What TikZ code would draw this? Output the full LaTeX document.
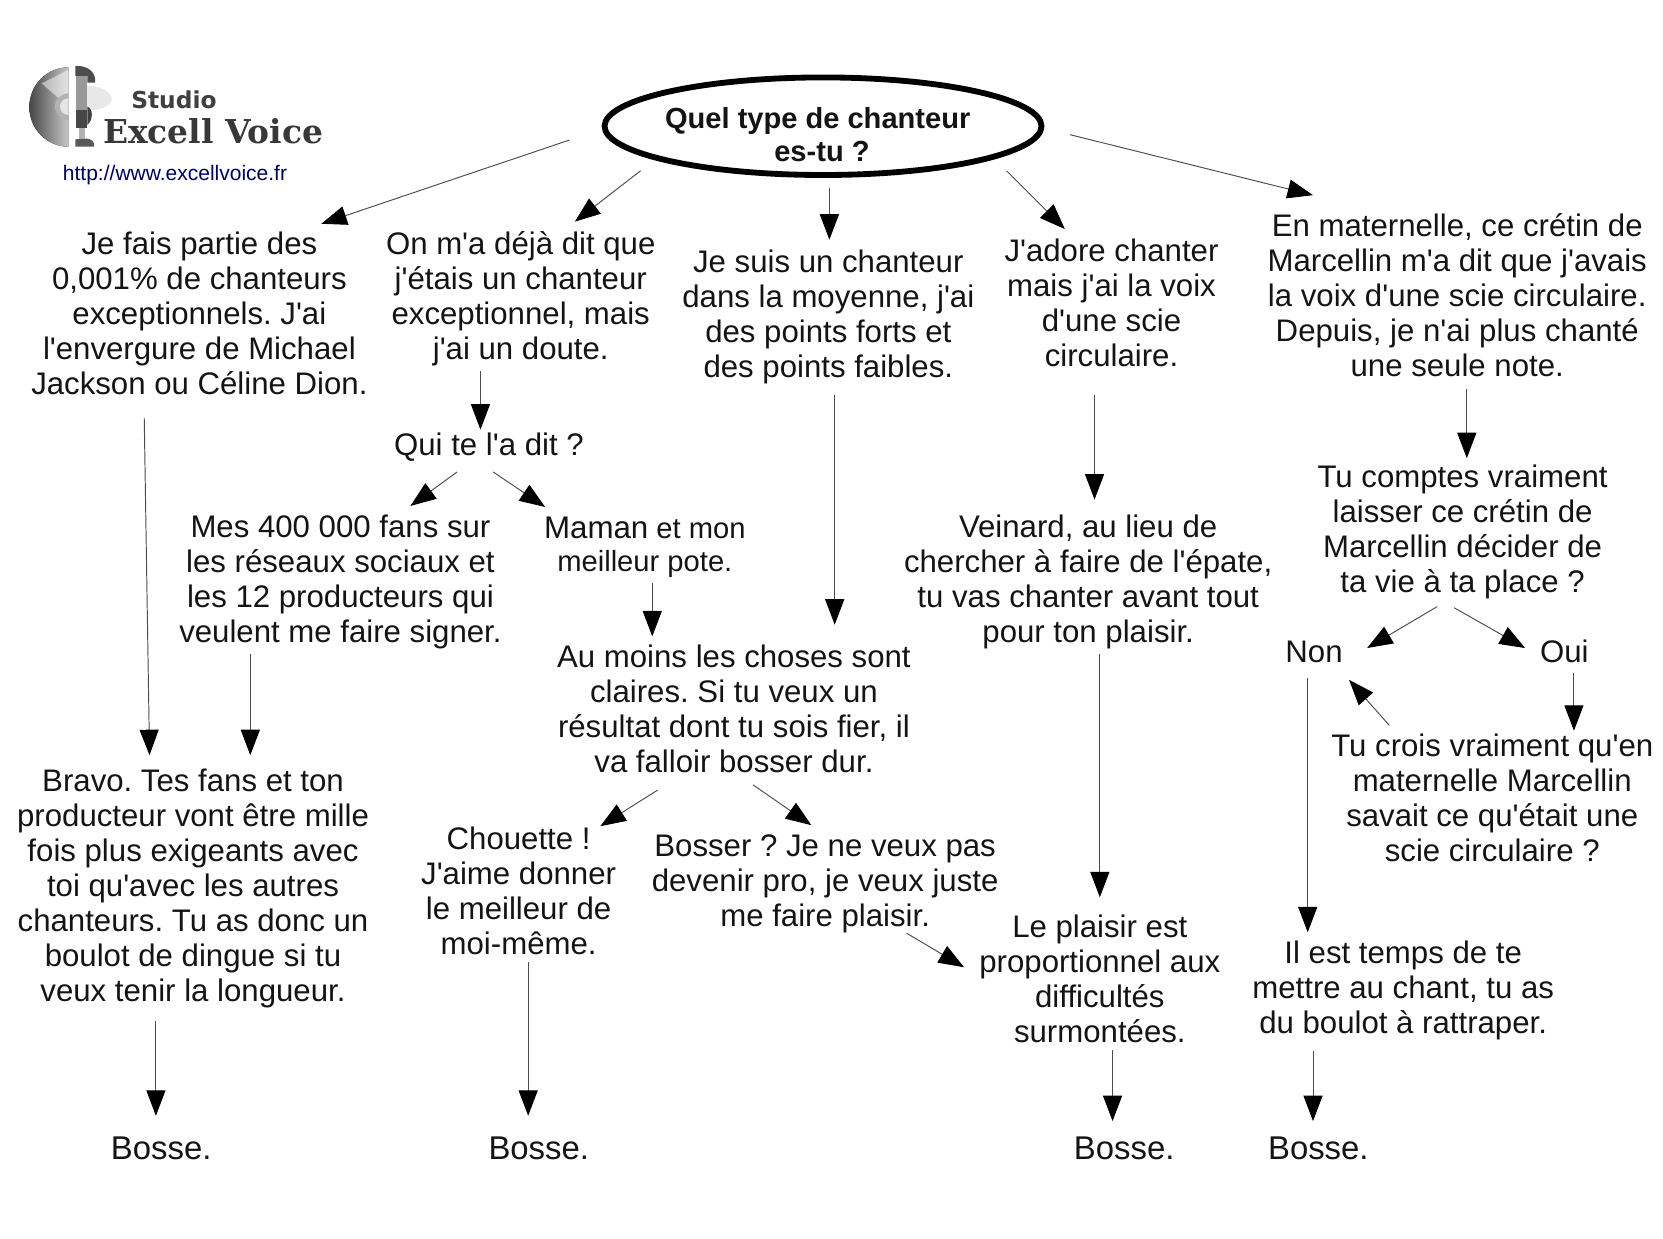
\documentclass[tikz,border=0pt]{standalone}
\usepackage{fontspec}
\newfontfamily\plainfont{Liberation Sans}
\newfontfamily\logofont{DejaVu Sans}
\newfontfamily\logoserif{DejaVu Serif}
\usetikzlibrary{arrows.meta,shapes.geometric}
\tikzset{
  txt/.style={align=center,inner sep=0pt,font=\plainfont\frenchspacing\fontsize{29.4}{33}\selectfont,text=black!92},
  arr/.style={draw=black!70,line width=0.9pt,-{Triangle[length=24pt,width=18pt,color=black]}},
  rootnode/.style={ellipse,draw=black,line width=5.5pt,fill=white,minimum width=412pt,minimum height=92pt,inner sep=0pt},
}
\begin{document}
\begin{tikzpicture}[x=1pt,y=-1pt]
\useasboundingbox (0,0) rectangle (1568,1168);
% logo
\begin{scope}[shift={(0,37.7)},x=0.3143pt,y=-0.3143pt]
  \fill[black!9] (250,140) .. controls (300,130) and (340,160) .. (335,180) .. controls (330,205) and (280,215) .. (250,210) -- cycle;
  \fill[left color=black!72,right color=black!22] (205,82) arc (-90:-270:117 and 119) -- cycle;
  \fill[white,opacity=.5] (205,90) -- (125,130) -- (205,200) -- cycle;
  \fill[black!30] (205,160) arc (-90:-270:40) -- cycle;
  \fill[black!10] (205,175) arc (-90:-270:25) -- cycle;
  \fill[black!70] (226,78) .. controls (265,75) and (290,100) .. (285,128) -- (262,128) -- (262,108) -- (226,108) -- cycle;
  \fill[black!40] (228,108) rectangle (262,210);
  \fill[black!72] (228,210) -- (262,210) -- (262,265) -- (228,265) -- cycle;
  \fill[black!75] (262,200) .. controls (280,205) and (280,240) .. (262,255) -- cycle;
  \fill[black!30] (236,265) rectangle (254,298);
  \fill[black!65] (226,298) -- (262,296) .. controls (280,298) and (284,310) .. (282,320) -- (226,320) -- cycle;
\end{scope}
\node[inner sep=0pt,text=black!75] (studio) at (164,94) {\logofont\bfseries\fontsize{22}{24}\selectfont Studio};
\node[inner sep=0pt,text=black!78] (excell) at (201,124) {\logoserif\bfseries\fontsize{31}{34}\selectfont Excell Voice};
\node[inner sep=0pt,text=blue!35!black] (url) at (165,165) {\plainfont\fontsize{19.8}{22}\selectfont http://www.excellvoice.fr};
% root
\node[rootnode] (q) at (776,119) {};
\node[txt,font=\plainfont\frenchspacing\bfseries\fontsize{27.4}{31}\selectfont] (qt) at (771,127) {Quel type de chanteur\\\hspace*{8pt}es-tu ?};
% text nodes
\node[txt] (a) at (188,295) {Je fais partie des\\0,001\% de chanteurs\\exceptionnels. J'ai\\l'envergure de Michael\\Jackson ou Céline Dion.};
\node[txt] (b) at (491,282) {On m'a déjà dit que\\j'étais un chanteur\\exceptionnel, mais\\j'ai un doute.};
\node[txt] (c) at (781,299) {Je suis un chanteur\\dans la moyenne, j'ai\\des points forts et\\des points faibles.};
\node[txt] (d) at (1048,286) {J'adore chanter\\mais j'ai la voix\\d'une scie\\circulaire.};
\node[txt] (e) at (1374,278) {En maternelle, ce crétin de\\Marcellin m'a dit que j'avais\\la voix d'une scie circulaire.\\Depuis, je n'ai plus chanté\\une seule note.};
\node[txt] (qui) at (461,422) {Qui te l'a dit ?};
\node[txt] (mes) at (321,549) {Mes 400 000 fans sur\\les réseaux sociaux et\\les 12 producteurs qui\\veulent me faire signer.};
\node[txt,font=\plainfont\frenchspacing\fontsize{27.5}{32}\selectfont] (maman) at (608,516) {{\fontsize{29.5}{32}\selectfont Maman} et mon\\meilleur pote.};
\node[txt] (veinard) at (1026,549) {Veinard, au lieu de\\chercher à faire de l'épate,\\tu vas chanter avant tout\\pour ton plaisir.};
\node[txt] (comptes) at (1379,502) {Tu comptes vraiment\\laisser ce crétin de\\Marcellin décider de\\ta vie à ta place ?};
\node[txt] (non) at (1239,615) {Non};
\node[txt] (oui) at (1475,614) {Oui};
\node[txt] (crois) at (1407,752) {Tu crois vraiment qu'en\\maternelle Marcellin\\savait ce qu'était une\\scie circulaire ?};
\node[txt] (moins) at (692,668) {Au moins les choses sont\\claires. Si tu veux un\\résultat dont tu sois fier, il\\va falloir bosser dur.};
\node[txt] (bravo) at (182,838) {Bravo. Tes fans et ton\\producteur vont être mille\\fois plus exigeants avec\\toi qu'avec les autres\\chanteurs. Tu as donc un\\boulot de dingue si tu\\veux tenir la longueur.};
\node[txt] (chouette) at (489,840) {Chouette !\\J'aime donner\\le meilleur de\\moi-même.};
\node[txt] (bosser) at (778,833) {Bosser ? Je ne veux pas\\devenir pro, je veux juste\\me faire plaisir.};
\node[txt] (plaisir) at (1037,923) {Le plaisir est\\proportionnel aux\\difficultés\\surmontées.};
\node[txt] (ilest) at (1323,934) {Il est temps de te\\mettre au chant, tu as\\du boulot à rattraper.};
\tikzset{bossetxt/.style={txt,font=\plainfont\fontsize{31}{33}\selectfont}}
\node[bossetxt] (b1) at (152,1083) {Bosse.};
\node[bossetxt] (b2) at (508,1083) {Bosse.};
\node[bossetxt] (b3) at (1060,1083) {Bosse.};
\node[bossetxt] (b4) at (1243,1083) {Bosse.};
% connectors: offsets from node centres
\draw[arr] ([shift={(-239,13)}]q.center) -- ([shift={(115,-84)}]a.center);
\draw[arr] ([shift={(-172,42)}]q.center) -- ([shift={(51,-73)}]b.center);
\draw[arr] ([shift={(6,58)}]q.center) -- ([shift={(1,-73)}]c.center);
\draw[arr] ([shift={(173,42)}]q.center) -- ([shift={(-44,-70)}]d.center);
\draw[arr] ([shift={(233,8)}]q.center) -- ([shift={(-136,-94)}]e.center);
\draw[arr] ([shift={(-52,99)}]a.center) -- ([shift={(-41,-126)}]bravo.center);
\draw[arr] ([shift={(-38,68)}]b.center) -- ([shift={(-8,-17)}]qui.center);
\draw[arr] ([shift={(-30,23)}]qui.center) -- ([shift={(66,-72)}]mes.center);
\draw[arr] ([shift={(4,23)}]qui.center) -- ([shift={(-94,-38)}]maman.center);
\draw[arr] ([shift={(-85,68)}]mes.center) -- ([shift={(54,-126)}]bravo.center);
\draw[arr] ([shift={(7,34)}]maman.center) -- ([shift={(-77,-68)}]moins.center);
\draw[arr] ([shift={(6,73)}]c.center) -- ([shift={(95,-79)}]moins.center);
\draw[arr] ([shift={(-16,86)}]d.center) -- ([shift={(6,-78)}]veinard.center);
\draw[arr] ([shift={(9,89)}]e.center) -- ([shift={(4,-70)}]comptes.center);
\draw[arr] ([shift={(11,68)}]veinard.center) -- ([shift={(0,-77)}]plaisir.center);
\draw[arr] ([shift={(-72,77)}]moins.center) -- ([shift={(77,-61)}]chouette.center);
\draw[arr] ([shift={(18,72)}]moins.center) -- ([shift={(-13,-55)}]bosser.center);
\draw[arr] ([shift={(-24,70)}]comptes.center) -- ([shift={(50,-4)}]non.center);
\draw[arr] ([shift={(-8,71)}]comptes.center) -- ([shift={(-37,-3)}]oui.center);
\draw[arr] ([shift={(-6,24)}]non.center) -- ([shift={(-90,-55)}]ilest.center);
\draw[arr] ([shift={(9,21)}]oui.center) -- ([shift={(77,-63)}]crois.center);
\draw[arr] ([shift={(-97,-68)}]crois.center) -- ([shift={(33,26)}]non.center);
\draw[arr] ([shift={(-35,125)}]bravo.center) -- ([shift={(-5,-31)}]b1.center);
\draw[arr] ([shift={(9,67)}]chouette.center) -- ([shift={(-10,-31)}]b2.center);
\draw[arr] ([shift={(77,47)}]bosser.center) -- ([shift={(-128,-11)}]plaisir.center);
\draw[arr] ([shift={(12,67)}]plaisir.center) -- ([shift={(-11,-26)}]b3.center);
\draw[arr] ([shift={(-85,57)}]ilest.center) -- ([shift={(-5,-26)}]b4.center);
\end{tikzpicture}
\end{document}
